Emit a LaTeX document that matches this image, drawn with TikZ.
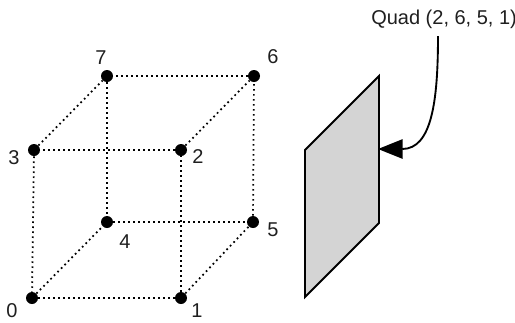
\documentclass[tikz,border=0pt]{standalone}
\usepackage{fontspec}
\setmainfont{Liberation Sans}
\usetikzlibrary{arrows.meta}
\tikzset{
 px/.style={x=0.75pt,y=-0.75pt},
 vertex/.style={circle,fill=black,inner sep=0pt,minimum size=9pt},
 edge/.style={line width=1.3pt,dash pattern=on 1.3pt off 2.45pt},
 lbl/.style={font=\fontsize{15}{17}\selectfont,inner sep=0pt,text=black!88}
}
\begin{document}
\begin{tikzpicture}[px]
\useasboundingbox (0,0) rectangle (515,322);
\node[vertex] (v0) at (32,298) {};
\node[vertex] (v1) at (181,298) {};
\node[vertex] (v2) at (181,150) {};
\node[vertex] (v3) at (34,150) {};
\node[vertex] (v4) at (107,222) {};
\node[vertex] (v5) at (253,222) {};
\node[vertex] (v6) at (254,76) {};
\node[vertex] (v7) at (107,76) {};
\foreach \a/\b in {v0/v1,v1/v2,v2/v3,v3/v0,v4/v5,v5/v6,v6/v7,v7/v4,v0/v4,v1/v5,v2/v6,v3/v7}
  \draw[edge] (\a) -- (\b);
\node[lbl] (l0) at (12,311) {0};
\node[lbl] (l1) at (197,311) {1};
\node[lbl] (l2) at (198,157) {2};
\node[lbl] (l3) at (14,158) {3};
\node[lbl] (l4) at (125,242) {4};
\node[lbl] (l5) at (273,230) {5};
\node[lbl] (l6) at (273,57) {6};
\node[lbl] (l7) at (101,58) {7};
\coordinate (qa) at (305,150);
\coordinate (qb) at (379,76);
\coordinate (qc) at (379,223);
\coordinate (qd) at (305,297);
\draw[line width=1.4pt,fill=black!17] (qa) -- (qb) -- (qc) -- (qd) -- cycle;
\node[lbl,anchor=west] (q) at (371,19) {Quad (2, 6, 5, 1)};
\coordinate (qs) at (438,36);
\coordinate (tip) at (378,149);
\draw[line width=1.4pt,-{Triangle[length=18.5pt,width=14.5pt]}] (qs) .. controls (438,100) and (432,149) .. (tip);
\end{tikzpicture}
\end{document}
